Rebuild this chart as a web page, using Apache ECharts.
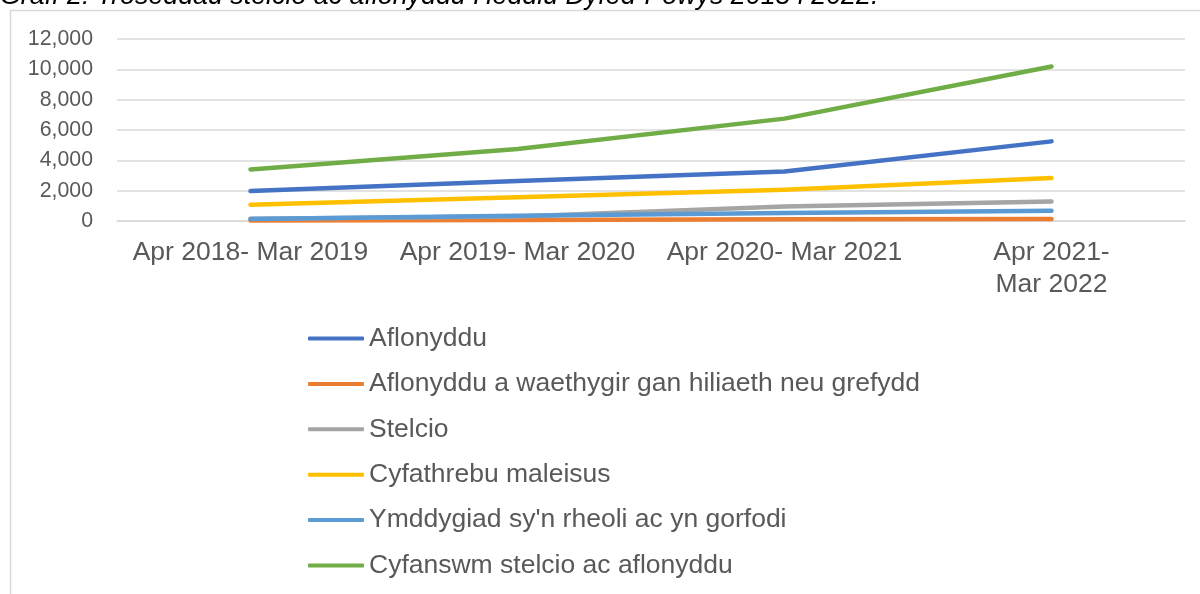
<!DOCTYPE html>
<html>
<head>
<meta charset="utf-8">
<script src="https://cdn.jsdelivr.net/npm/echarts@6/dist/echarts.min.js"></script>
<style>html,body{margin:0;padding:0;background:#fff;}#c{width:1200px;height:594px;}</style>
</head>
<body>
<div id="c"></div>
<script>
const titleText = "Graff 2: Troseddau stelcio ac aflonyddu Heddlu Dyfed-Powys 2018 i 2022.";
const categories = ["Apr 2018- Mar 2019", "Apr 2019- Mar 2020", "Apr 2020- Mar 2021", "Apr 2021- Mar 2022"];
const yTicks = [0, 2000, 4000, 6000, 8000, 10000, 12000];
const seriesNames = ["Aflonyddu", "Aflonyddu a waethygir gan hiliaeth neu grefydd", "Stelcio", "Cyfathrebu maleisus", "Ymddygiad sy'n rheoli ac yn gorfodi", "Cyfanswm stelcio ac aflonyddu"];
const aflonyddu = [1980, 2640, 3270, 5250];
const hiliaeth = [40, 70, 110, 130];
const stelcio = [150, 290, 960, 1290];
const maleisus = [1075, 1560, 2060, 2830];
const rheoli = [140, 350, 530, 680];
const cyfanswm = [3400, 4750, 6750, 10190];
const colors = ["#4472C4", "#ED7D31", "#A5A5A5", "#FFC000", "#5B9BD5", "#70AD47"];
const values = [aflonyddu, hiliaeth, stelcio, maleisus, rheoli, cyfanswm];

const chart = echarts.init(document.getElementById('c'), null, {renderer: 'canvas'});
const font = "Liberation Sans, Arial, sans-serif";
chart.setOption({
  backgroundColor: '#fff',
  animation: false,
  title: {
    text: titleText, left: 0, top: -17, padding: 0,
    textStyle: {fontFamily: font, fontSize: 26.8, fontStyle: 'italic', fontWeight: 'normal', color: '#000'}
  },
  graphic: [{
    type: 'rect', shape: {x: 10.5, y: 10.5, width: 1400, height: 800},
    style: {fill: 'none', stroke: '#d9d9d9', lineWidth: 1.5}, silent: true, z: -1
  }],
  grid: {left: 117, right: 15, top: 39, bottom: 373, containLabel: false},
  xAxis: {
    type: 'category', data: categories, boundaryGap: true,
    axisLine: {show: true, lineStyle: {color: '#d9d9d9', width: 1.5}},
    axisTick: {show: false},
    axisLabel: {
      fontFamily: font, fontSize: 26.5, color: '#595959', margin: 16, interval: 0, lineHeight: 32,
      formatter: (v, i) => i === categories.length - 1 ? v.replace('- ', '-\n') : v
    }
  },
  yAxis: {
    type: 'value', min: yTicks[0], max: yTicks[yTicks.length - 1], interval: yTicks[1] - yTicks[0],
    axisLine: {show: false}, axisTick: {show: false},
    splitLine: {lineStyle: {color: '#d9d9d9', width: 1.5}},
    axisLabel: {fontFamily: font, fontSize: 21.3, color: '#595959', margin: 24,
      formatter: v => v.toLocaleString('en-US')}
  },
  legend: {
    orient: 'vertical', left: 308, top: 325, padding: 0, itemWidth: 56, itemHeight: 4, itemGap: 18.4,
    icon: 'roundRect',
    textStyle: {fontFamily: font, fontSize: 26.5, color: '#595959', lineHeight: 25},
    data: seriesNames
  },
  series: seriesNames.map((n, i) => ({
    name: n, type: 'line', data: values[i], showSymbol: false, symbol: 'none',
    lineStyle: {color: colors[i], width: 4.5, cap: 'round', join: 'round'},
    itemStyle: {color: colors[i]}
  }))
});
</script>
</body>
</html>
